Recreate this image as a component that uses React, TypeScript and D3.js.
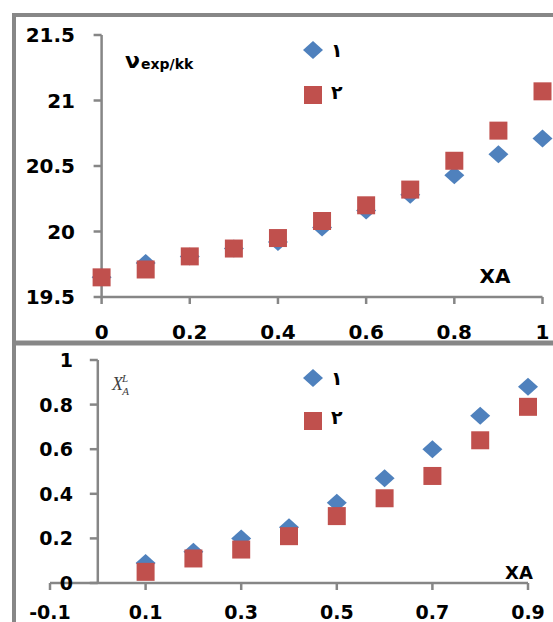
import React from "react";
import * as d3 from "d3";

const width = 553;
const height = 622;

// top chart: v exp/kk against XA
const topX = [0, 0.1, 0.2, 0.3, 0.4, 0.5, 0.6, 0.7, 0.8, 0.9, 1];
const topSeries1 = [19.65, 19.76, 19.81, 19.87, 19.92, 20.03, 20.16, 20.28, 20.43, 20.59, 20.71];
const topSeries2 = [19.65, 19.71, 19.81, 19.87, 19.95, 20.08, 20.2, 20.32, 20.54, 20.77, 21.07];
const topYTicks = [19.5, 20, 20.5, 21, 21.5];
const topXTicks = [0, 0.2, 0.4, 0.6, 0.8, 1];

// bottom chart: X_A^L against XA
const botX = [0.1, 0.2, 0.3, 0.4, 0.5, 0.6, 0.7, 0.8, 0.9];
const botSeries1 = [0.09, 0.14, 0.2, 0.25, 0.36, 0.47, 0.6, 0.75, 0.88];
const botSeries2 = [0.05, 0.11, 0.15, 0.21, 0.3, 0.38, 0.48, 0.64, 0.79];
const botYTicks = [0, 0.2, 0.4, 0.6, 0.8, 1];
const botXTicks = [-0.1, 0.1, 0.3, 0.5, 0.7, 0.9];

const legendNames = ["١", "٢"];

const blue = "#4F81BD";
const red = "#C0504D";
const axisGray = "#868686";
const frameGray = "#878787";
const font = "'DejaVu Sans', Verdana, sans-serif";

const xTop = d3.scaleLinear().domain([0, 1]).range([101.6, 542.5]);
const yTop = d3.scaleLinear().domain([19.5, 21.5]).range([297, 35]);
const xBot = d3.scaleLinear().domain([-0.1, 0.9]).range([50, 528]);
const yBot = d3.scaleLinear().domain([0, 1]).range([583, 360]);

const diamond = "M0,-9L10,0L0,9L-10,0Z";
const square = d3.symbol().type(d3.symbolSquare).size(18 * 18)();

function Marker({ x, y, kind }) {
  return (
    <path
      d={kind === 0 ? diamond : square}
      transform={`translate(${x},${y})`}
      fill={kind === 0 ? blue : red}
    />
  );
}

function Axes({ x, y, xTicks, yTicks, x0, fontSize, xLabelY, yLabelX }) {
  const [xa, xb] = x.range();
  const [yb, ya] = y.range();
  return (
    <g>
      <line x1={x0} x2={x0} y1={ya} y2={yb} stroke={axisGray} strokeWidth={2.5} />
      <line x1={xa} x2={xb} y1={yb} y2={yb} stroke={axisGray} strokeWidth={2.5} />
      {yTicks.map((t) => (
        <g key={`y${t}`}>
          <line x1={x0 - 8} x2={x0} y1={y(t)} y2={y(t)} stroke={axisGray} strokeWidth={2.5} />
          <text
            x={yLabelX}
            y={y(t)}
            textAnchor="end"
            dominantBaseline="central"
            fontFamily={font}
            fontWeight="bold"
            fontSize={fontSize}
          >
            {t}
          </text>
        </g>
      ))}
      {xTicks.map((t) => (
        <g key={`x${t}`}>
          <line x1={x(t)} x2={x(t)} y1={yb} y2={yb + 7} stroke={axisGray} strokeWidth={2.5} />
          <text
            x={x(t)}
            y={xLabelY}
            textAnchor="middle"
            dominantBaseline="central"
            fontFamily={font}
            fontWeight="bold"
            fontSize={fontSize}
          >
            {t}
          </text>
        </g>
      ))}
    </g>
  );
}

function Legend({ x, y1, y2, t2 }) {
  return (
    <g fontFamily={font} fontWeight="bold" fontSize={19}>
      <Marker x={x} y={y1} kind={0} />
      <text x={x + 18} y={y1} dominantBaseline="central">{legendNames[0]}</text>
      <Marker x={x} y={y2} kind={1} />
      <text x={x + 18} y={t2} dominantBaseline="central">{legendNames[1]}</text>
    </g>
  );
}

export default function App() {
  return (
    <svg
      width={width}
      height={height}
      style={{ position: "absolute", left: 0, top: 0, background: "#fff" }}
    >
      {/* panel frames */}
      <line x1={14} x2={14} y1={13} y2={height} stroke={frameGray} strokeWidth={4} />
      <line x1={12} x2={width} y1={15} y2={15} stroke={frameGray} strokeWidth={4} />
      <line x1={12} x2={width} y1={343} y2={343} stroke={frameGray} strokeWidth={5} />

      {/* top chart */}
      <Axes
        x={xTop}
        y={yTop}
        xTicks={topXTicks}
        yTicks={topYTicks}
        x0={xTop(0)}
        fontSize={20}
        xLabelY={332}
        yLabelX={75}
      />
      <text x={125} y={68} fontFamily={font} fontWeight="bold" fontSize={22}>
        ν<tspan fontSize={14} dx={1} dy={1}>exp/kk</tspan>
      </text>
      <text x={495} y={276} textAnchor="middle" dominantBaseline="central" fontFamily={font} fontWeight="bold" fontSize={20}>
        XA
      </text>
      {topX.map((d, i) => (
        <Marker key={`t1${i}`} x={xTop(d)} y={yTop(topSeries1[i])} kind={0} />
      ))}
      {topX.map((d, i) => (
        <Marker key={`t2${i}`} x={xTop(d)} y={yTop(topSeries2[i])} kind={1} />
      ))}
      <Legend x={313} y1={50} y2={95} t2={92} />

      {/* bottom chart */}
      <text x={112} y={390} fontFamily="'Liberation Serif', 'Times New Roman', serif" fontStyle="italic" fontSize={18} fill="#404040">
        X
        <tspan fontSize={11} dx={-1} dy={-8}>L</tspan>
        <tspan fontSize={11} dx={-6} dy={13}>A</tspan>
      </text>
      <Axes
        x={xBot}
        y={yBot}
        xTicks={botXTicks}
        yTicks={botYTicks}
        x0={xBot(0)}
        fontSize={19}
        xLabelY={612}
        yLabelX={73}
      />
      <text x={519} y={572} textAnchor="middle" dominantBaseline="central" fontFamily={font} fontWeight="bold" fontSize={18}>
        XA
      </text>
      {botX.map((d, i) => (
        <Marker key={`b1${i}`} x={xBot(d)} y={yBot(botSeries1[i])} kind={0} />
      ))}
      {botX.map((d, i) => (
        <Marker key={`b2${i}`} x={xBot(d)} y={yBot(botSeries2[i])} kind={1} />
      ))}
      <Legend x={313} y1={378} y2={421} t2={417} />
    </svg>
  );
}
